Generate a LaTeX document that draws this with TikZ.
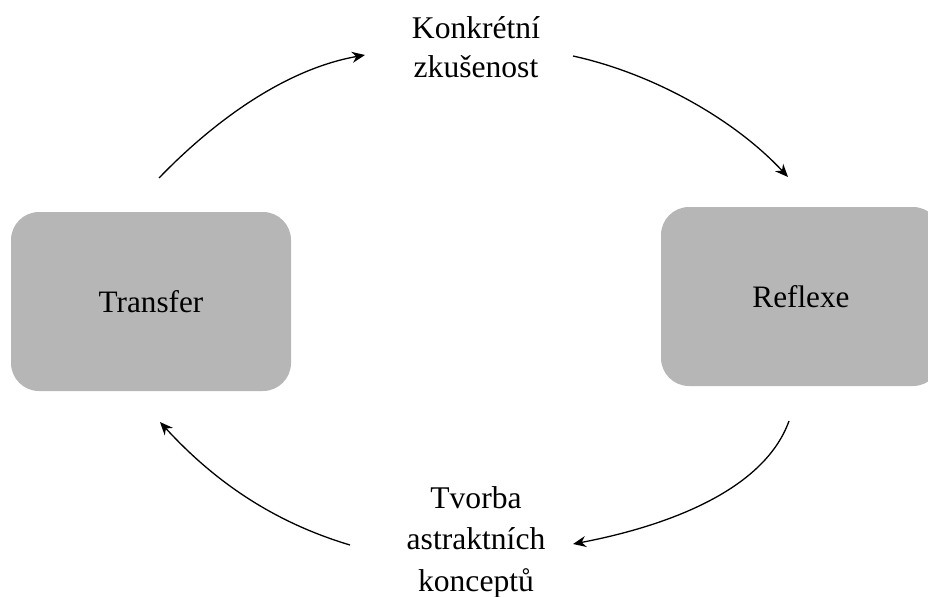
\documentclass[tikz,border=0pt]{standalone}
\usepackage{fontspec}
\setmainfont{Liberation Serif}
\usetikzlibrary{arrows.meta}
\definecolor{boxgray}{RGB}{182,182,182}
\begin{document}
\begin{tikzpicture}[x=0.5pt,y=-0.5pt,
  stagebox/.style={fill=boxgray, rounded corners=14pt, minimum width=140pt,
    minimum height=89.5pt, inner sep=0pt, font=\fontsize{15.6}{19}\selectfont},
  phase/.style={align=center, inner sep=0pt},
  cyclearrow/.style={-{Stealth[length=6.5pt,width=5.5pt]}, line width=0.65pt}
]
\useasboundingbox (0,0) rectangle (928,596);
\clip (0,0) rectangle (928,596);

% the four phases of the cycle
\node[stagebox] (transfer) at (151,301.5) {Transfer};
\node[stagebox] (reflexe) at (801,296.5) {Reflexe};
\node[phase, font=\fontsize{15.8}{19.5}\selectfont] (konkretni) at (476,47) {Konkrétní\\zkušenost};
\node[phase, font=\fontsize{15.8}{20.8}\selectfont] (tvorba) at (476,542) {Tvorba\\astraktních\\konceptů};

% free ends of the curved arrows
\coordinate (a1s) at (159,178);
\coordinate (a1e) at (365,55);
\coordinate (a2s) at (573,56);
\coordinate (a2e) at (788,177);
\coordinate (a3s) at (789,421);
\coordinate (a3e) at (573,544);
\coordinate (a4s) at (350,545);
\coordinate (a4e) at (160,422);

\draw[cyclearrow] (a1s) .. controls (215,120) and (286,69) .. (a1e);
\draw[cyclearrow] (a2s) .. controls (651,73) and (733,118) .. (a2e);
\draw[cyclearrow] (a3s) .. controls (762,496) and (652,529) .. (a3e);
\draw[cyclearrow] (a4s) .. controls (273,522) and (214,481) .. (a4e);
\end{tikzpicture}
\end{document}
